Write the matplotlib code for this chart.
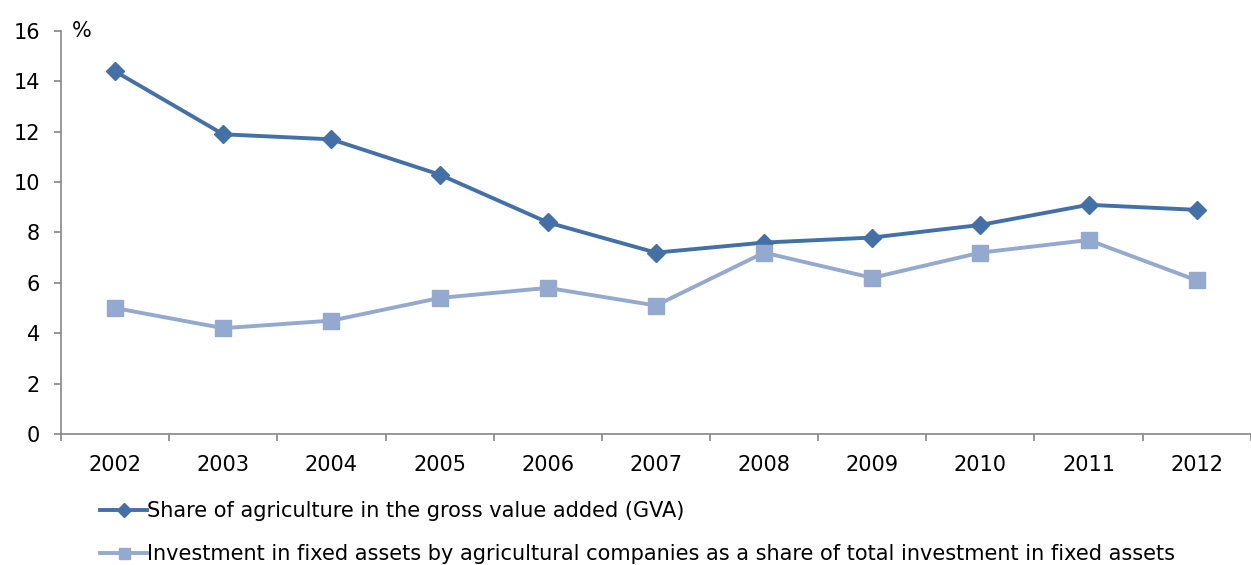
import matplotlib
matplotlib.use('Agg')
import matplotlib.pyplot as plt
import numpy as np

# data
years = ['2002', '2003', '2004', '2005', '2006', '2007', '2008', '2009', '2010', '2011', '2012']
gva_share = [14.4, 11.9, 11.7, 10.3, 8.4, 7.2, 7.6, 7.8, 8.3, 9.1, 8.9]
invest_share = [5.0, 4.2, 4.5, 5.4, 5.8, 5.1, 7.2, 6.2, 7.2, 7.7, 6.1]
label_gva = 'Share of agriculture in the gross value added (GVA)'
label_inv = 'Investment in fixed assets by agricultural companies as a share of total investment in fixed assets'

dark = '#4470A8'
light = '#93A9CF'
axis_grey = '#868686'

plt.rcParams['font.family'] = ['DejaVu Sans']

fig = plt.figure(figsize=(12.51, 5.65), dpi=100)
ax = fig.add_axes([0.0488, 0.232, 0.951, 0.713])

x = np.arange(len(years))
l1, = ax.plot(x, gva_share, color=dark, lw=2.8, marker='D', markersize=9.5,
              label=label_gva)
l2, = ax.plot(x, invest_share, color=light, lw=2.8, marker='s', markersize=11,
              label=label_inv)

ax.set_xlim(-0.5, len(years) - 0.5)
ax.set_ylim(0, 16)
ax.set_yticks(np.arange(0, 17, 2))
ax.set_xticks(x)
ax.set_xticklabels(years)
ax.set_xticks(np.arange(-0.5, len(years)), minor=True)

for s in ['top', 'right']:
    ax.spines[s].set_visible(False)
for s in ['left', 'bottom']:
    ax.spines[s].set_color(axis_grey)
    ax.spines[s].set_linewidth(1.2)

ax.tick_params(axis='y', length=5, width=1.2, color=axis_grey, pad=10, labelsize=15)
ax.tick_params(axis='x', which='major', length=0, pad=15.5, labelsize=15)
ax.tick_params(axis='x', which='minor', length=5, width=1.2, color=axis_grey)

ax.text(0.009, 1.0, '%', transform=ax.transAxes, fontsize=15, ha='left', va='center')

fig.legend(handles=[l1, l2], loc='upper left', bbox_to_anchor=(0.080, 0.113),
           frameon=False, fontsize=15, handlelength=2.25, handletextpad=0.0,
           labelspacing=1.1, borderaxespad=0, borderpad=0, markerscale=0.72)

fig.savefig('out.png', dpi=100)
